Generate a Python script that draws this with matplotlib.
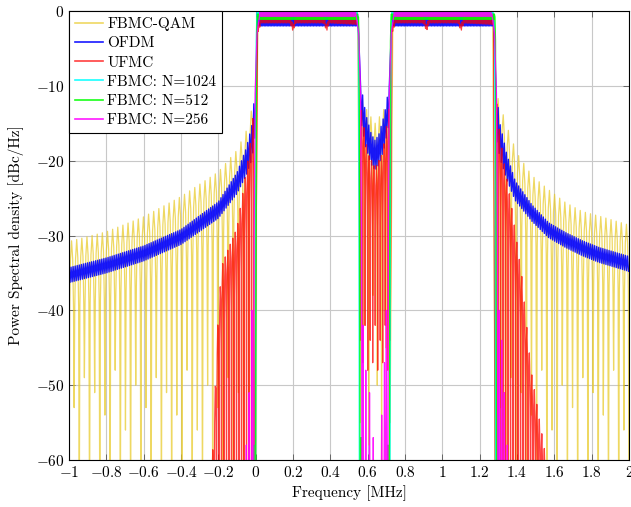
import numpy as np
import matplotlib
matplotlib.use("Agg")
import matplotlib.pyplot as plt

plt.rcParams.update({
    "font.family": "cmr10",
    "mathtext.fontset": "cm",
    "axes.formatter.use_mathtext": True,
    "font.size": 11,
})

# ---------------- data (MHz, dBc/Hz) ----------------
series_names = ["FBMC-QAM", "OFDM", "UFMC", "FBMC: N=1024", "FBMC: N=512", "FBMC: N=256"]

# FBMC-QAM: sidelobe peak envelope, null depths, in-band level
qam_left_x = [-1.0, -0.8, -0.6, -0.4, -0.2, -0.1, -0.05, -0.02, -0.005]
qam_left_top = [-30.8, -29.5, -27.5, -24.8, -21.5, -18.6, -16.0, -13.0, -8.0]
qam_gap_x = [0.565, 0.60, 0.64, 0.68, 0.715]
qam_gap_top = [-11.5, -13.5, -15.0, -13.5, -11.5]
qam_right_x = [1.29, 1.315, 1.35, 1.40, 1.48, 1.57, 1.66, 1.75, 1.84, 2.0]
qam_right_top = [-11.0, -13.0, -15.7, -19.0, -22.0, -23.9, -25.6, -26.8, -27.4, -28.6]
qam_nulls = [-70, -53, -70, -49, -70, -51, -70, -54, -70, -48, -70, -56, -70, -50]
qam_gap_nulls = [-55, -42, -58, -38, -50, -60, -45]
qam_band = [-0.05, -0.5]

# OFDM: centre of the ripple band and its half width
ofdm_left_x = [-1.0, -0.8, -0.6, -0.4, -0.2, -0.1, -0.05, -0.02, -0.005]
ofdm_left_mid = [-35.3, -34.0, -32.4, -30.2, -26.6, -23.0, -20.1, -17.5, -14.0]
ofdm_left_half = [1.0, 1.0, 1.0, 1.0, 1.1, 1.4, 1.8, 2.3, 3.0]
ofdm_gap_x = [0.565, 0.59, 0.62, 0.64, 0.66, 0.69, 0.715]
ofdm_gap_mid = [-12.5, -16.0, -18.5, -19.3, -18.5, -16.0, -12.5]
ofdm_gap_half = [2.5, 2.2, 2.0, 2.0, 2.0, 2.2, 2.5]
ofdm_right_x = [1.29, 1.31, 1.345, 1.39, 1.48, 1.57, 1.66, 1.75, 1.84, 2.0]
ofdm_right_mid = [-14.0, -17.5, -20.8, -24.0, -27.0, -29.3, -30.6, -31.7, -32.6, -33.8]
ofdm_right_half = [3.0, 2.3, 1.7, 1.3, 1.1, 1.0, 1.0, 1.0, 1.0, 1.0]
ofdm_band = [-0.4, -2.0]

# UFMC: sidelobe peak envelope and in-band ripple with dips
ufmc_left_x = [-0.25, -0.227, -0.21, -0.197, -0.18, -0.15, -0.10, -0.06, -0.03, -0.01]
ufmc_left_top = [-63.0, -58.0, -45.3, -39.0, -34.0, -32.0, -29.0, -23.0, -18.0, -13.0]
ufmc_gap_x = [0.565, 0.60, 0.64, 0.68, 0.715]
ufmc_gap_top = [-13.0, -19.0, -21.0, -19.0, -13.0]
ufmc_gap_nulls = [-44, -47, -42, -48]
ufmc_right_x = [1.29, 1.31, 1.34, 1.375, 1.41, 1.425, 1.475, 1.55, 1.57]
ufmc_right_top = [-12.0, -17.0, -21.7, -26.8, -32.8, -35.3, -48.0, -59.0, -63.0]
ufmc_band1_x = [0.01, 0.03, 0.185, 0.20, 0.215, 0.365, 0.38, 0.395, 0.55]
ufmc_band1_top = [-2.0, -0.8, -0.8, -1.9, -0.8, -0.8, -1.9, -0.8, -0.9]
ufmc_band1_bot = [-3.0, -1.6, -1.6, -2.7, -1.6, -1.6, -2.7, -1.6, -1.8]
ufmc_band2_x = [0.73, 0.75, 0.90, 0.915, 0.93, 1.085, 1.10, 1.115, 1.275]
ufmc_band2_top = [-2.0, -0.8, -0.8, -1.9, -0.8, -0.8, -1.9, -0.8, -0.9]
ufmc_band2_bot = [-3.0, -1.6, -1.6, -2.7, -1.6, -1.6, -2.7, -1.6, -1.8]

# FBMC with N subcarriers: band edges, in-band level, residual sidelobes
fbmc1024_edges = [0.0, 0.553, 0.722, 1.283]
fbmc1024_band = [-0.1, -0.6]
fbmc1024_lobes_x = []
fbmc1024_lobes_y = []
fbmc512_edges = [0.002, 0.557, 0.719, 1.288]
fbmc512_band = [-0.4, -1.1]
fbmc512_lobes_x = [-0.008, 0.566, 0.709, 1.297]
fbmc512_lobes_y = [-58.0, -57.0, -58.0, -54.0]
fbmc256_edges = [-0.003, 0.562, 0.716, 1.290]
fbmc256_band = [-0.1, -0.7]
fbmc256_lobes_x = [-0.05, -0.035, -0.02, 0.575, 0.59, 0.61, 0.63, 0.675, 0.69, 0.70,
                   1.305, 1.318, 1.332, 1.348]
fbmc256_lobes_y = [-58.0, -51.0, -40.0, -42.0, -48.0, -51.0, -57.0, -54.0, -47.0, -40.0,
                   -40.0, -44.0, -51.0, -58.0]

xticks = [-1.0, -0.8, -0.6, -0.4, -0.2, 0.0, 0.2, 0.4, 0.6, 0.8, 1.0, 1.2, 1.4, 1.6, 1.8, 2.0]
xtick_labels = ["$-1$", "$-0.8$", "$-0.6$", "$-0.4$", "$-0.2$", "$0$", "$0.2$", "$0.4$",
                "$0.6$", "$0.8$", "$1$", "$1.2$", "$1.4$", "$1.6$", "$1.8$", "$2$"]
yticks = [-60, -50, -40, -30, -20, -10, 0]
ytick_labels = ["$-60$", "$-50$", "$-40$", "$-30$", "$-20$", "$-10$", "$0$"]

colors = ["#e8c820", "#0000ff", "#ff0000", "#00ffff", "#00ff00", "#ff00ff"]
alphas = [0.7, 0.9, 0.75, 0.9, 0.9, 0.9]

# shape of one sidelobe between two nulls (fraction of the lobe, dB below its peak)
lobe_frac = [0.12, 0.28, 0.5, 0.72, 0.88]
lobe_drop = [9.0, 2.5, 0.0, 2.5, 9.0]


# ---------------- helpers ----------------
def lobes(xa, xb, period, tx, ty, nulls):
    xs, ys = [], []
    n = int(round((xb - xa) / period))
    for k in range(n):
        x0 = xa + k * period
        xs.append(x0)
        ys.append(nulls[k % len(nulls)])
        for fr, dr in zip(lobe_frac, lobe_drop):
            xx = x0 + fr * period
            xs.append(xx)
            ys.append(np.interp(xx, tx, ty) - dr)
    xs.append(xa + n * period)
    ys.append(nulls[n % len(nulls)])
    return np.array(xs), np.array(ys)


def zigzag(xa, xb, step, ux, uy, lx, ly):
    xs = np.arange(xa, xb + 1e-9, step / 2.0)
    up = np.interp(xs, ux, uy)
    lo = np.interp(xs, lx, ly)
    ys = np.where(np.arange(len(xs)) % 2 == 0, up, lo)
    return xs, ys


def join(parts):
    return np.concatenate([p[0] for p in parts]), np.concatenate([p[1] for p in parts])


def flat(xa, xb, step, band):
    return zigzag(xa, xb, step, [xa, xb], [band[0]] * 2, [xa, xb], [band[1]] * 2)


def fbmc_trace(edges, band, lobes_x, lobes_y, off, db, step=0.006):
    pts = [(-1.0, -80.0)]
    for lx, ly in zip(lobes_x, lobes_y):
        pts += [(lx - 0.005, -80.0), (lx, ly), (lx + 0.005, -80.0)]
    for r, f in ((edges[0], edges[1]), (edges[2], edges[3])):
        for o, d in zip(off, db):
            pts.append((r + o, d))
        xs, ys = flat(r + off[-1] + 0.002, f - off[-1] - 0.002, step, band)
        pts += list(zip(xs, ys))
        for o, d in zip(off[::-1], db[::-1]):
            pts.append((f - o, d))
    pts.append((2.0, -80.0))
    pts.sort(key=lambda p: p[0])
    a = np.array(pts)
    return a[:, 0], a[:, 1]


# ---------------- build traces ----------------
qam = join([
    lobes(-1.0, -0.005, 0.0275, qam_left_x, qam_left_top, qam_nulls),
    flat(0.012, 0.548, 0.01, qam_band),
    lobes(0.560, 0.720, 0.0229, qam_gap_x, qam_gap_top, qam_gap_nulls),
    flat(0.735, 1.272, 0.01, qam_band),
    lobes(1.285, 2.005, 0.0275, qam_right_x, qam_right_top, qam_nulls),
])

lm, lh = np.array(ofdm_left_mid), np.array(ofdm_left_half)
gm, gh = np.array(ofdm_gap_mid), np.array(ofdm_gap_half)
rm, rh = np.array(ofdm_right_mid), np.array(ofdm_right_half)
ofdm = join([
    zigzag(-1.0, -0.004, 0.011, ofdm_left_x, lm + lh, ofdm_left_x, lm - lh),
    flat(0.01, 0.55, 0.008, ofdm_band),
    zigzag(0.562, 0.718, 0.011, ofdm_gap_x, gm + gh, ofdm_gap_x, gm - gh),
    flat(0.73, 1.275, 0.008, ofdm_band),
    zigzag(1.288, 2.0, 0.011, ofdm_right_x, rm + rh, ofdm_right_x, rm - rh),
])

ufmc = join([
    lobes(-0.25, -0.005, 0.0134, ufmc_left_x, ufmc_left_top, [-75]),
    zigzag(0.01, 0.55, 0.008, ufmc_band1_x, ufmc_band1_top, ufmc_band1_x, ufmc_band1_bot),
    lobes(0.560, 0.720, 0.0134, ufmc_gap_x, ufmc_gap_top, ufmc_gap_nulls),
    zigzag(0.73, 1.275, 0.008, ufmc_band2_x, ufmc_band2_top, ufmc_band2_x, ufmc_band2_bot),
    lobes(1.285, 1.57, 0.0134, ufmc_right_x, ufmc_right_top, [-75]),
])

sharp_off, sharp_db = [-0.003, 0.0, 0.003, 0.006], [-80.0, -25.0, -4.0, -0.8]
soft_off, soft_db = [-0.008, -0.005, 0.0, 0.01, 0.025], [-80.0, -30.0, -11.0, -3.0, -0.4]
f1024 = fbmc_trace(fbmc1024_edges, fbmc1024_band, fbmc1024_lobes_x, fbmc1024_lobes_y, sharp_off, sharp_db)
f512 = fbmc_trace(fbmc512_edges, fbmc512_band, fbmc512_lobes_x, fbmc512_lobes_y, sharp_off, sharp_db)
f256 = fbmc_trace(fbmc256_edges, fbmc256_band, fbmc256_lobes_x, fbmc256_lobes_y, soft_off, soft_db)

traces = [qam, ofdm, ufmc, f1024, f512, f256]
widths = [0.9, 1.0, 0.9, 0.9, 0.9, 0.9]

# ---------------- plot ----------------
fig = plt.figure(figsize=(6.31, 5.07), dpi=100)
ax = fig.add_axes([69 / 631, 47 / 507, 560 / 631, 449 / 507])

for (x, y), name, c, a, w in zip(traces, series_names, colors, alphas, widths):
    ax.plot(x, y, color=c, alpha=a, lw=w, label=name)

ax.set_xlim(-1, 2)
ax.set_ylim(-60, 0)
ax.set_xticks(xticks)
ax.set_xticklabels(xtick_labels)
ax.set_yticks(yticks)
ax.set_yticklabels(ytick_labels)
ax.grid(True, color="#c8c8c8", lw=0.8)
ax.set_axisbelow(True)
ax.tick_params(direction="in", top=True, right=True, length=4, width=0.6,
               color="#555555", labelsize=11)
for s in ax.spines.values():
    s.set_linewidth(0.8)
ax.set_xlabel("Frequency [MHz]", fontsize=11)
ax.set_ylabel("Power Spectral density [dBc/Hz]", fontsize=11, labelpad=8)

leg = ax.legend(loc="upper left", bbox_to_anchor=(0, 1), borderaxespad=0.0,
                fancybox=False, framealpha=1, edgecolor="black",
                handlelength=1.8, handletextpad=0.3, labelspacing=0.36,
                borderpad=0.4, fontsize=11)
leg.get_frame().set_linewidth(0.8)
for h in leg.get_lines():
    h.set_linewidth(1.2)

fig.savefig("out.png", dpi=100)
